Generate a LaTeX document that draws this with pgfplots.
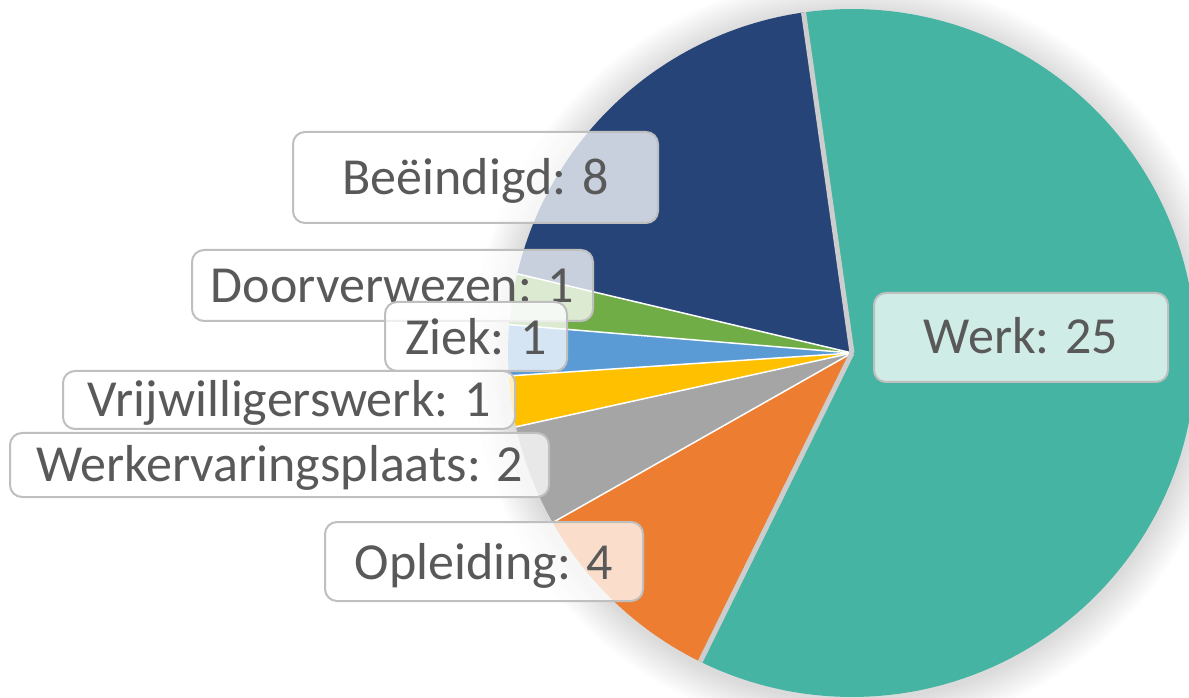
\documentclass[border=0pt]{standalone}
\usepackage{pgfplots}
\usepackage{pgfplotstable}
\pgfplotsset{compat=1.18}
\usepackage{fontspec}
\setmainfont{Carlito}

\definecolor{cWerk}{RGB}{69,180,163}
\definecolor{cOpl}{RGB}{237,125,49}
\definecolor{cWev}{RGB}{165,165,165}
\definecolor{cVrij}{RGB}{255,192,0}
\definecolor{cZiek}{RGB}{91,155,213}
\definecolor{cDoor}{RGB}{112,173,71}
\definecolor{cBeei}{RGB}{38,68,120}
\definecolor{edgegray}{RGB}{205,205,205}
\definecolor{boxgray}{RGB}{191,191,191}
\definecolor{txt}{RGB}{89,89,89}

\pgfplotstableread{
label value
Werk 25
Opleiding 4
Werkervaringsplaats 2
Vrijwilligerswerk 1
Ziek 1
Doorverwezen 1
Beeindigd 8
}\piedata

% pie geometry (axis units = pt)
\def\cx{852}
\def\cy{344}
\def\R{344}

\newcommand\slice[2]{%
  \edef\dA{\csname aE#1\endcsname}%
  \edef\dB{\csname aS#1\endcsname}%
  \addplot[fill=#2, draw=none, domain=\dA:\dB, samples=120, variable=\t]
    ({\cx+\R*cos(\t)},{\cy+\R*sin(\t)}) -- (axis cs:\cx,\cy) -- cycle;
}
\newcommand\edgeline[2]{%
  \edef\dA{\csname aS#1\endcsname}%
  \edef\tmp{\noexpand\draw[#2] (axis cs:\cx,\cy) -- (axis cs:{\cx+\R*cos(\dA)},{\cy+\R*sin(\dA)});}%
  \tmp
}
\newcommand\lab[7]{% x1 y1 x2 y2 xc ybase text
  \draw[draw=boxgray, line width=2pt, fill=white, fill opacity=0.75, rounded corners=12pt]
    (axis cs:#1,#2) rectangle (axis cs:#3,#4);
  \node[anchor=base, text=txt, inner sep=0pt, font=\fontsize{52}{62}\selectfont] at (axis cs:#5,#6) {#7};
}

\begin{document}
% compute angles from the data
\xdef\tot{0}%
\foreach \i in {0,...,6}{%
  \pgfplotstablegetelem{\i}{value}\of\piedata
  \pgfmathsetmacro\s{\tot+\pgfplotsretval}%
  \xdef\tot{\s}%
}%
\xdef\cum{98.1}%
\foreach \i in {0,...,6}{%
  \pgfplotstablegetelem{\i}{value}\of\piedata
  \pgfmathsetmacro\e{\cum-\pgfplotsretval/\tot*360}%
  \expandafter\xdef\csname aS\i\endcsname{\cum}%
  \expandafter\xdef\csname aE\i\endcsname{\e}%
  \xdef\cum{\e}%
}%
\begin{tikzpicture}
\begin{axis}[
  x=1pt, y=1pt,
  xmin=0, xmax=1189, ymin=0, ymax=697,
  hide axis, clip=true,
  anchor=south west, at={(0,0)},
]
% soft shadow
\pgfplotsinvokeforeach{1,...,18}{
  \fill[black, opacity=0.0085] (axis cs:\cx,\cy-3) circle[radius={(\R+2*#1)*1pt}];
}
\slice{0}{cWerk}
\slice{1}{cOpl}
\slice{2}{cWev}
\slice{3}{cVrij}
\slice{4}{cZiek}
\slice{5}{cDoor}
\slice{6}{cBeei}
\edgeline{2}{white, line width=1.5pt}
\edgeline{3}{white, line width=1.5pt}
\edgeline{4}{white, line width=1.5pt}
\edgeline{5}{white, line width=1.5pt}
\edgeline{6}{white, line width=1.5pt}
\edgeline{0}{edgegray, line width=5pt}
\edgeline{1}{edgegray, line width=5pt}

\lab{874}{404}{1168}{315}{1021}{343}{Werk: 25}
\lab{293}{565}{658}{474}{475.5}{502}{Beëindigd: 8}
\lab{192}{447}{593}{376}{392.5}{394}{Doorverwezen: 1}
\lab{385}{395}{567}{326}{476}{342}{Ziek: 1}
\lab{63}{326}{515}{268}{289}{280}{Vrijwilligerswerk: 1}
\lab{10}{264}{549}{200}{279.5}{215}{Werkervaringsplaats: 2}
\lab{325}{175}{643}{96}{484}{118}{Opleiding: 4}
\end{axis}
\pgfresetboundingbox
\path[use as bounding box] (current axis.south west) rectangle (current axis.north east);
\end{tikzpicture}
\end{document}
